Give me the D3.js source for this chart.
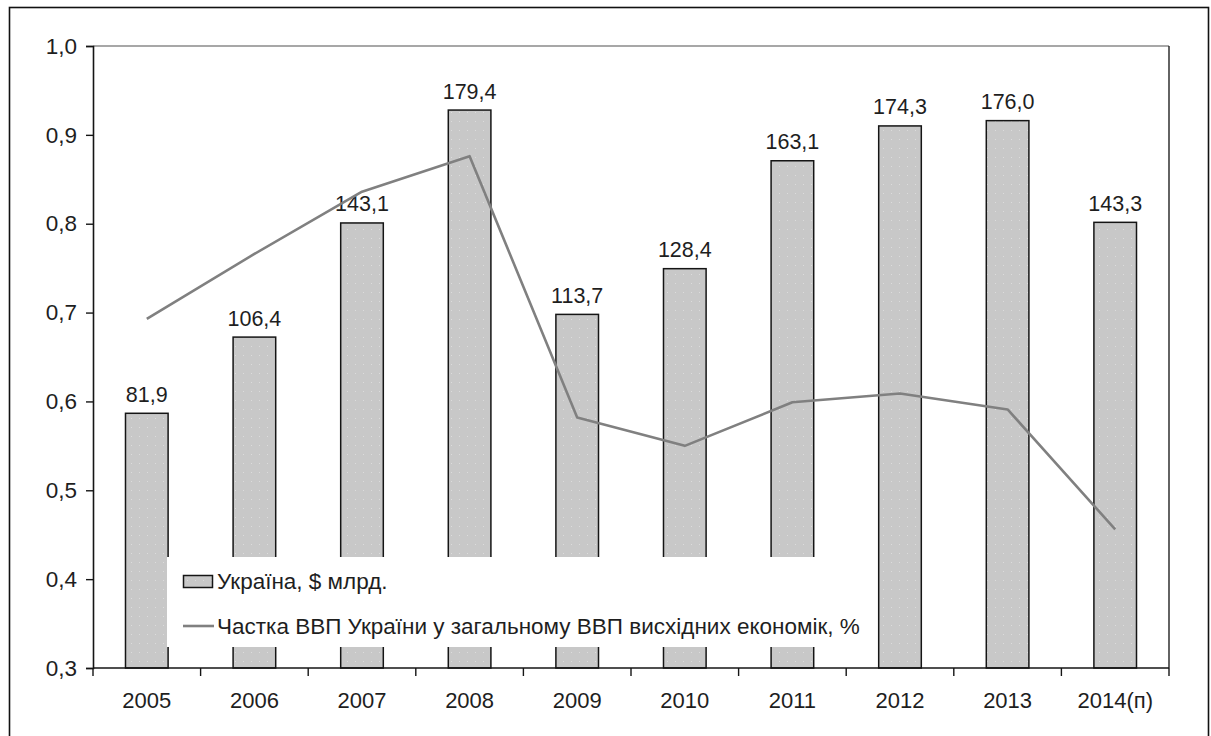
<!DOCTYPE html>
<html>
<head>
<meta charset="utf-8">
<script src="https://cdn.jsdelivr.net/npm/d3@7/dist/d3.min.js"></script>
<style>
  html, body { margin: 0; padding: 0; background: #fff; }
  svg { display: block; }
  text { font-family: "Liberation Sans", Arial, sans-serif; fill: #1e1e1e; }
</style>
</head>
<body>
<svg id="chart" width="1211" height="736"></svg>
<script>
// Years on the category axis
const categories = ["2005", "2006", "2007", "2008", "2009", "2010", "2011", "2012", "2013", "2014(п)"];
// GDP of Ukraine, $ bn (bars, hidden secondary scale 0–200)
const gdpValues = [81.9, 106.4, 143.1, 179.4, 113.7, 128.4, 163.1, 174.3, 176.0, 143.3];
// Share of Ukraine's GDP in total emerging-economies GDP, % (line, left axis)
const shareValues = [0.693, 0.766, 0.836, 0.876, 0.582, 0.550, 0.599, 0.609, 0.591, 0.456];
// Left axis tick values
const yTicks = [0.3, 0.4, 0.5, 0.6, 0.7, 0.8, 0.9, 1.0];
// Legend labels
const legendLabels = ["Україна, $ млрд.", "Частка ВВП України у загальному ВВП висхідних економік, %"];

const svg = d3.select("#chart");
const plot = { left: 93, right: 1169, top: 46, bottom: 668 };

const x = d3.scaleBand()
  .domain(categories)
  .range([plot.left, plot.right])
  .paddingInner(0.604)
  .paddingOuter(0.302);

const y = d3.scaleLinear().domain([0.3, 1.0]).range([plot.bottom, plot.top]);
const yBar = d3.scaleLinear().domain([0, 200]).range([plot.bottom, plot.top]);

const fmt = v => v.toFixed(1).replace(".", ",");

// dotted fill for the bars
const defs = svg.append("defs");
const pat = defs.append("pattern")
  .attr("id", "dots").attr("patternUnits", "userSpaceOnUse")
  .attr("width", 8).attr("height", 9);
pat.append("rect").attr("width", 8).attr("height", 9).attr("fill", "#c8c8c8");
pat.append("rect").attr("x", 3).attr("y", 4).attr("width", 1).attr("height", 1).attr("fill", "#dcdcdc");

// outer frame
svg.append("rect")
  .attr("x", 9.5).attr("y", 7.5).attr("width", 1199).attr("height", 800)
  .attr("fill", "none").attr("stroke", "#111").attr("stroke-width", 1.6);

// plot area border (top and right)
svg.append("line")
  .attr("x1", plot.left).attr("x2", plot.right)
  .attr("y1", y(1.0)).attr("y2", y(1.0))
  .attr("stroke", "#8a8a8a").attr("stroke-width", 1.4);
svg.append("line")
  .attr("x1", plot.right).attr("x2", plot.right)
  .attr("y1", y(1.0)).attr("y2", plot.bottom)
  .attr("stroke", "#222").attr("stroke-width", 1.4);

// bars
svg.append("g").selectAll("rect")
  .data(categories)
  .join("rect")
  .attr("x", d => x(d))
  .attr("y", (d, i) => yBar(gdpValues[i]))
  .attr("width", x.bandwidth())
  .attr("height", (d, i) => plot.bottom - yBar(gdpValues[i]))
  .attr("fill", "url(#dots)")
  .attr("stroke", "#151515")
  .attr("stroke-width", 1.5);

// bar value labels
svg.append("g").selectAll("text")
  .data(categories)
  .join("text")
  .attr("x", d => x(d) + x.bandwidth() / 2)
  .attr("y", (d, i) => yBar(gdpValues[i]) - 11.5)
  .attr("text-anchor", "middle")
  .attr("font-size", 21.5)
  .text((d, i) => fmt(gdpValues[i]));

// share line
const line = d3.line()
  .x((d, i) => x(categories[i]) + x.bandwidth() / 2)
  .y(d => y(d));
svg.append("path")
  .datum(shareValues)
  .attr("d", line)
  .attr("fill", "none")
  .attr("stroke", "#808080")
  .attr("stroke-width", 2.6)
  .attr("stroke-linejoin", "round");

// legend
const lg = svg.append("g");
lg.append("rect")
  .attr("x", 167).attr("y", 557).attr("width", 705).attr("height", 90)
  .attr("fill", "#fff");
lg.append("rect")
  .attr("x", 183.5).attr("y", 575.5).attr("width", 29).attr("height", 12)
  .attr("fill", "url(#dots)").attr("stroke", "#151515").attr("stroke-width", 1.5);
lg.append("line")
  .attr("x1", 183).attr("x2", 214).attr("y1", 626).attr("y2", 626)
  .attr("stroke", "#808080").attr("stroke-width", 2.6);
lg.selectAll("text.lbl")
  .data(legendLabels)
  .join("text")
  .attr("class", "lbl")
  .attr("x", 217)
  .attr("y", (d, i) => 589 + i * 45)
  .attr("font-size", 22.5)
  .text(d => d);

// left axis
const yAxis = svg.append("g")
  .attr("transform", `translate(${plot.left},0)`)
  .call(d3.axisLeft(y).tickValues(yTicks).tickFormat(fmt).tickSize(7).tickPadding(9));
yAxis.select(".domain").attr("stroke", "#151515").attr("stroke-width", 1.6);
yAxis.selectAll(".tick line").attr("stroke", "#151515").attr("stroke-width", 1.4);
yAxis.selectAll(".tick text")
  .attr("font-size", 22.5).attr("font-family", "Liberation Sans, Arial, sans-serif").attr("fill", "#1e1e1e");

// bottom axis: labels at category centres
const xAxis = svg.append("g")
  .attr("transform", `translate(0,${plot.bottom})`)
  .call(d3.axisBottom(x).tickSize(0).tickPadding(24));
xAxis.select(".domain").remove();
xAxis.selectAll(".tick text")
  .attr("font-size", 22).attr("font-family", "Liberation Sans, Arial, sans-serif").attr("fill", "#1e1e1e");

// bottom axis line and tick marks at category boundaries
svg.append("line")
  .attr("x1", plot.left).attr("x2", plot.right)
  .attr("y1", plot.bottom).attr("y2", plot.bottom)
  .attr("stroke", "#151515").attr("stroke-width", 1.6);
const boundaries = categories.map(c => x(c) - x.step() * x.paddingInner() / 2).concat([plot.right]);
svg.append("g").selectAll("line")
  .data(boundaries)
  .join("line")
  .attr("x1", d => d).attr("x2", d => d)
  .attr("y1", plot.bottom).attr("y2", plot.bottom + 8)
  .attr("stroke", "#151515").attr("stroke-width", 1.4);
</script>
</body>
</html>
